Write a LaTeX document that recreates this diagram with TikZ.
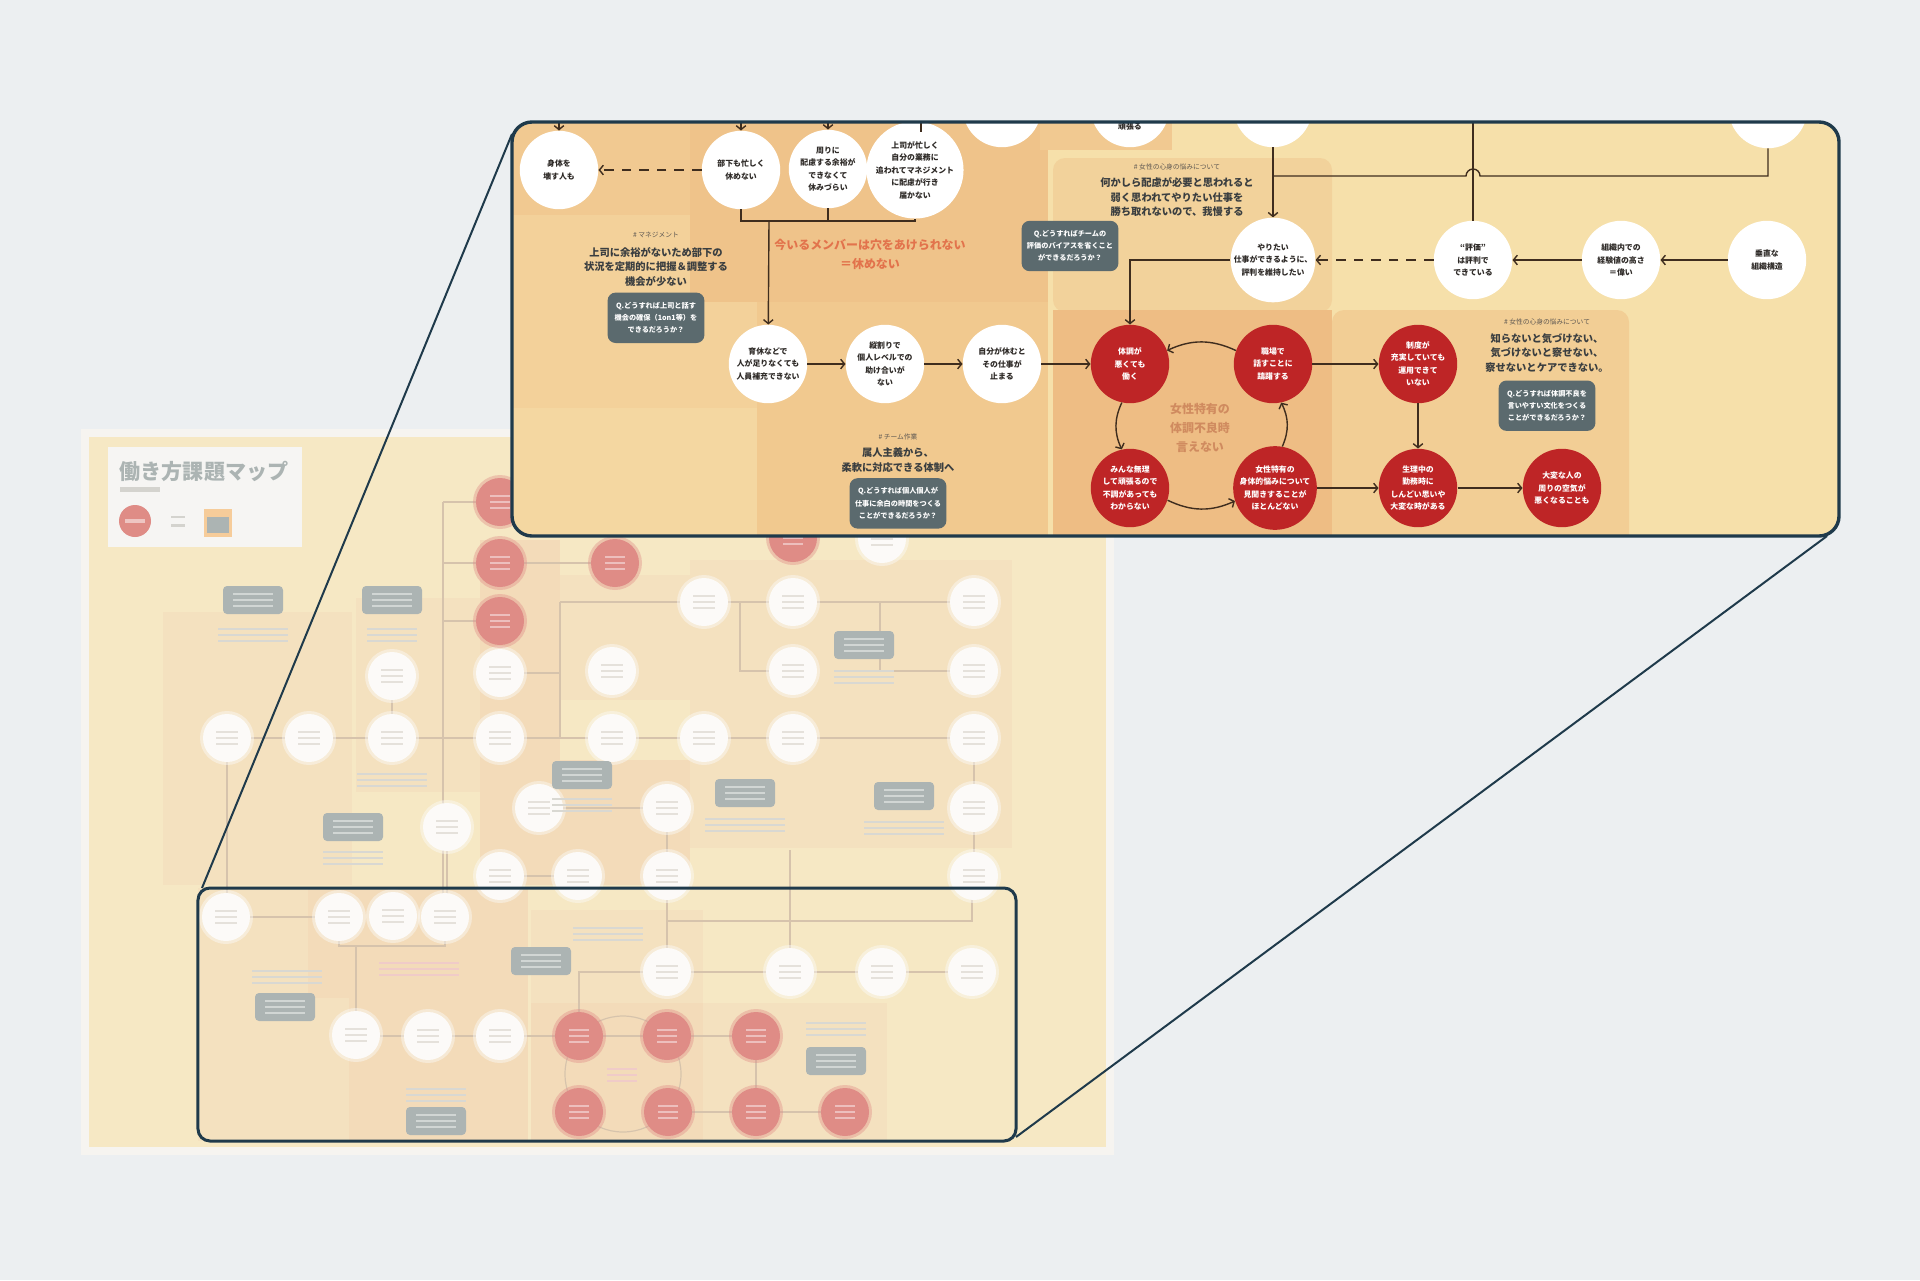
\documentclass[tikz,border=0pt]{standalone}
\usepackage{fontspec}
\setmainfont{Noto Sans CJK JP}
\usetikzlibrary{arrows.meta,positioning}

\definecolor{bgc}{HTML}{ECEFF1}
\definecolor{edgec}{HTML}{1F3A4B}
\definecolor{redc}{HTML}{BE2526}
\definecolor{slate}{HTML}{5B6A6E}
\definecolor{ink}{HTML}{2E2A27}
\definecolor{headc}{HTML}{3A3E40}
\definecolor{tagc}{HTML}{5E5852}
\definecolor{lnc}{HTML}{3F2D1E}
\definecolor{memoc}{HTML}{E2734C}
\definecolor{cycc}{HTML}{D08B5F}
% panel backgrounds
\definecolor{pbase}{HTML}{F6E0AA}
\definecolor{pleft}{HTML}{F3D19A}
\definecolor{ptop}{HTML}{F1C991}
\definecolor{pdark}{HTML}{EFC38A}
\definecolor{plite}{HTML}{F4D7A1}
\definecolor{pmid}{HTML}{F1C98F}
\definecolor{pwom}{HTML}{F2D29B}
\definecolor{pcyc}{HTML}{EEBD84}
\definecolor{pright}{HTML}{F2CE95}
% faded overview map
\definecolor{mapedge}{HTML}{F3F0EA}
\definecolor{mapbase}{HTML}{F2DEA9}
\definecolor{mappeach}{HTML}{F0D3A2}
\definecolor{mapor}{HTML}{EECB99}
\definecolor{mapred}{HTML}{D0564E}
\definecolor{mapwhite}{HTML}{FBF9F5}
\definecolor{mapgray}{HTML}{85918F}
\definecolor{mapln}{HTML}{C4A886}
\definecolor{smudge}{HTML}{D9D3CA}
\definecolor{mapcard}{HTML}{F2F1EE}

\newcommand\mapbars[4]{%
  \foreach \k in {-6,0,6}
    \fill[#4] ({#1-#3/2},{#2+\k-1.3}) rectangle ({#1+#3/2},{#2+\k+1.3});}
\newcommand\mapw[2]{%
  \fill[mapwhite,opacity=.45] (#1,#2) circle[radius=27];
  \fill[mapwhite] (#1,#2) circle[radius=24];
  \mapbars{#1}{#2}{22}{smudge}}
\newcommand\mapr[2]{%
  \fill[mapred,opacity=.4] (#1,#2) circle[radius=27];
  \fill[mapred] (#1,#2) circle[radius=24];
  \mapbars{#1}{#2}{20}{mapred!55!white}}
\newcommand\mapq[2]{%
  \fill[mapgray,rounded corners=1mm] ({#1-30},{#2-14}) rectangle ({#1+30},{#2+14});
  \mapbars{#1}{#2}{40}{mapgray!55!white}}

\begin{document}
\begin{tikzpicture}[
  x=0.25mm,y=-0.25mm,
  wnode/.style={circle,fill=white,minimum size=19.6mm,inner sep=0pt,align=center,text=ink,
    font=\fontsize{5.6}{8.9}\selectfont\bfseries},
  rnode/.style={wnode,fill=redc,text=white},
  qbox/.style={fill=slate,text=white,rounded corners=2mm,minimum width=24.2mm,minimum height=12.6mm,
    inner sep=0pt,align=center,font=\fontsize{5.1}{8.7}\selectfont\bfseries},
  head/.style={align=center,text=headc,inner sep=1pt,font=\fontsize{7.3}{10.4}\selectfont\bfseries},
  tag/.style={text=tagc,inner sep=1pt,font=\fontsize{4.8}{6}\selectfont},
  memo/.style={align=center,text=memoc,font=\fontsize{8.5}{13.5}\selectfont\bfseries},
  conn/.style={draw=lnc,line width=.35mm},
  dashline/.style={conn,dash pattern=on 2.4mm off 2mm},
  mapl/.style={draw=mapln,line width=.3mm},
  link/.style={draw=edgec,line width=.5mm},
  >={Straight Barb[length=1mm,width=2.4mm]}
]
\useasboundingbox (0,0) rectangle (1920,1280);
\fill[bgc] (0,0) rectangle (1920,1280);

% Overview map (faded)
\fill[mapedge] (81,429) rectangle (1114,1155);
\fill[mapbase] (89,437) rectangle (1106,1147);
\fill[mappeach] (163,612) rectangle (352,885);
\fill[mappeach] (356,598) rectangle (480,792);
\fill[mapor] (480,540) rectangle (560,885);
\fill[mappeach] (560,575) rectangle (690,700);
\fill[mapor] (560,760) rectangle (690,885);
\fill[mappeach] (690,560) rectangle (1012,848);
\fill[mappeach] (198,888) rectangle (528,1141);
\fill[mapor] (308,888) rectangle (528,998);
\fill[mapor] (349,998) rectangle (528,1141);
\fill[mappeach] (531,910) rectangle (703,1004);
\fill[mapor] (531,1003) rectangle (703,1141);
\fill[mappeach] (703,1003) rectangle (887,1141);

\draw[mapl] (443,502) -- (443,917);
\draw[mapl] (443,502) -- (500,502);
\draw[mapl] (443,563) -- (615,563);
\draw[mapl] (443,621) -- (500,621);
\draw[mapl] (227,738) -- (974,738);
\draw[mapl] (227,738) -- (227,917);
\draw[mapl] (392,676) -- (392,738);
\draw[mapl] (500,673) -- (560,673) -- (560,738);
\draw[mapl] (560,602) -- (560,673);
\draw[mapl] (560,602) -- (974,602);
\draw[mapl] (740,602) |- (793,671);
\draw[mapl] (880,602) |- (974,671);
\draw[mapl] (447,827) -- (447,900);
\draw[mapl] (539,808) -- (667,808) -- (667,876);
\draw[mapl] (974,738) -- (974,876);
\draw[mapl] (500,876) -- (578,876);
\draw[mapl] (226,917) -- (339,917);
\draw[mapl] (339,917) |- (356,946) -| (445,917);
\draw[mapl] (356,946) -- (356,1036) -- (756,1036);
\draw[mapl] (667,879) -- (667,972) -- (972,972);
\draw[mapl] (667,972) -| (579,1036);
\draw[mapl] (667,921) -- (972,921) -- (972,880);
\draw[mapl] (790,850) -- (790,972);
\draw[mapl] (756,1036) -- (756,1112);
\draw[mapl] (668,1112) -- (845,1112);
\draw[mapl] (623,1074) circle[radius=58];

\foreach \x/\y in {227/738, 309/738, 392/676, 392/738, 500/673, 500/738, 612/671, 612/738,
  704/602, 704/738, 793/602, 793/671, 793/738, 974/602, 974/671, 974/738, 974/808, 974/876,
  447/827, 539/808, 667/808, 500/876, 578/876, 667/876, 882/539, 226/917, 339/917, 393/916,
  445/917, 356/1035, 428/1036, 500/1036, 667/972, 790/972, 882/972, 972/972}
  \mapw{\x}{\y};
\foreach \x/\y in {500/502, 500/563, 500/621, 615/563, 793/538, 579/1036, 667/1036, 756/1036,
  579/1112, 668/1112, 756/1112, 845/1112}
  \mapr{\x}{\y};
\foreach \x/\y in {253/600, 392/600, 582/775, 745/793, 904/796, 353/827, 864/645, 541/961,
  285/1007, 436/1121, 836/1061}
  \mapq{\x}{\y};
\foreach \x/\y/\w in {253/635/70, 392/635/50, 392/780/70, 582/805/60, 745/825/80, 904/828/80,
  353/858/60, 864/677/60, 287/977/70, 436/1095/60, 608/934/70, 836/1029/60}
  \mapbars{\x}{\y}{\w}{smudge!80!mapgray};
\mapbars{419}{969}{80}{mapred!45!white}
\mapbars{622}{1075}{30}{mapred!45!white}

% map title and legend
\fill[mapcard] (108,447) rectangle (302,547);
\node[text=mapgray,font=\fontsize{15}{18}\selectfont\bfseries] (ttl) at (204,471) {働き方課題マップ};
\fill[smudge!70!mapgray] (120,487) rectangle (160,492);
\fill[mapred] (135,521) circle[radius=16];
\fill[white,opacity=.5] (125,519) rectangle (145,523);
\fill[smudge!70!mapgray] (171,516) rectangle (185,518);
\fill[smudge!70!mapgray] (171,524) rectangle (185,527);
\fill[mapor!70!orange] (204,509) rectangle (232,537);
\fill[mapgray] (207,517) rectangle (229,533);

% wash over the map
\fill[white,opacity=.32] (81,429) rectangle (1114,1155);

% zoomed region marker
\node[draw=edgec,line width=.75mm,rounded corners=3mm,minimum width=204.5mm,minimum height=63.25mm,
  inner sep=0pt,outer sep=0pt] (mini) at (607,1014.5) {};

% Zoomed panel
\begin{scope}
\clip[rounded corners=5mm] (512,122) rectangle (1839,536);
\fill[pbase] (512,122) rectangle (1839,536);
\fill[pleft] (512,122) rectangle (1048,536);
\fill[ptop] (512,122) rectangle (1048,215);
\fill[pdark] (690,122) rectangle (1048,302);
\fill[plite] (512,408) rectangle (757,536);
\fill[pmid] (757,302) rectangle (1048,536);
\fill[ptop] (1040,110) rectangle (1172,150);
\fill[pwom,rounded corners=3mm] (1053,158) rectangle (1332,312);
\fill[pcyc] (1053,310) rectangle (1332,536);
\fill[pright,rounded corners=3mm] (1332,310) rectangle (1629,548);

% Management
\node[wnode] (kr) at (559,170) {身体を\\壊す人も};
\node[wnode] (bk) at (741,170) {部下も忙しく\\休めない};
\node[wnode] (mw) at (828,169) {周りに\\配慮する余裕が\\できなくて\\休みづらい};
\node[wnode] (js) at (915,170) {上司が忙しく\\自分の業務に\\追われてマネジメント\\に配慮が行き\\届かない};
\coordinate (u1) at (559,105);
\coordinate (u2) at (741,105);
\coordinate (u3) at (828,105);
\coordinate (u4) at (911,105);
\coordinate (u5) at (921,105);
\draw[conn,->] (u1) -- (kr);
\draw[conn,->] (u2) -- (bk);
\draw[conn,->] (u3) -- (mw);
\draw[conn,->] (u4) -- (u4 |- js.north);
\draw[conn] (u5) -- ++(0,27);
\draw[dashline,->] (bk) -- (kr);
\coordinate (br) at (769,221);
\draw[conn] (bk.south) |- (br) -| (js.south);
\draw[conn] (mw.south) -- (mw.south |- br);

\node[head] (m1) at (656,267) {上司に余裕がないため部下の\\状況を定期的に把握＆調整する\\機会が少ない};
\node[tag,above=1.6mm of m1] (m0) {\# マネジメント};
\node[qbox,below=1mm of m1] (mq) {Q.どうすれば上司と話す\\機会の確保（1on1等）を\\できるだろうか？};
\node[memo] (mm) at (870,254) {今いるメンバーは穴をあけられない\\＝休めない};

% Team work
\node[wnode] (ik) at (768,364) {育休などで\\人が足りなくても\\人員補充できない};
\node[wnode] (tw) at (885,364) {縦割りで\\個人レベルでの\\助け合いが\\ない};
\node[wnode] (jy) at (1002,364) {自分が休むと\\その仕事が\\止まる};
\draw[conn,->] (br) -- (ik);
\draw[conn,->] (ik) -- (tw);
\draw[conn,->] (tw) -- (jy);
\node[head] (c1) at (898,460) {属人主義から、\\柔軟に対応できる体制へ};
\node[tag,above=1.2mm of c1] (c0) {\# チーム作業};
\node[qbox,below=1mm of c1] (cq) {Q.どうすれば個人個人が\\仕事に余白の時間をつくる\\ことができるだろうか？};

% top row, cut by the frame
\node[wnode] (t1) at (1002,108) {};
\node[wnode] (t2) at (1130,108) {};
\node[text=ink,font=\fontsize{5.6}{8.9}\selectfont\bfseries] (t2t) at (1130,127) {頑張る};
\node[wnode] (t3) at (1273,108) {};
\node[wnode] (t4) at (1768,109) {};

% Evaluation
\node[wnode] (yr) at (1273,260) {やりたい\\仕事ができるように、\\評判を維持したい};
\node[wnode] (hk) at (1473,260) {“評価”\\は評判で\\できている};
\node[wnode] (sk) at (1621,260) {組織内での\\経験値の高さ\\＝偉い};
\node[wnode] (sc) at (1767,260) {垂直な\\組織構造};
\coordinate (j1) at (1273,176);
\coordinate (u6) at (1473,105);
\draw[conn,->] (t3) -- (yr);
\draw[conn] (t4.south) |- (1480,176) arc[start angle=0,end angle=-180,radius=7] -- (j1);
\draw[conn] (u6) -- (hk);
\draw[dashline,->] (hk) -- (yr);
\draw[conn,->] (sk) -- (hk);
\draw[conn,->] (sc) -- (sk);
\node[head] (w1) at (1177,197) {何かしら配慮が必要と思われると\\弱く思われてやりたい仕事を\\勝ち取れないので、我慢する};
\node[tag,above=1mm of w1] (w0) {\# 女性の心身の悩みについて};
\node[qbox] (wq) at (1070,246) {Q.どうすればチームの\\評価のバイアスを省くこと\\ができるだろうか？};

% Women's health
\node[rnode] (tc) at (1130,364) {体調が\\悪くても\\働く};
\node[rnode] (sb) at (1273,364) {職場で\\話すことに\\躊躇する};
\node[rnode] (sd) at (1418,364) {制度が\\充実していても\\運用できて\\いない};
\node[rnode] (mn) at (1130,488) {みんな無理\\して頑張るので\\不調があっても\\わからない};
\node[rnode] (jt) at (1275,488) {女性特有の\\身体的悩みについて\\見聞きすることが\\ほとんどない};
\node[rnode] (sr) at (1418,488) {生理中の\\勤務時に\\しんどい思いや\\大変な時がある};
\node[rnode] (tk) at (1562,488) {大変な人の\\周りの空気が\\悪くなることも};
\draw[conn,->] (jy) -- (tc);
\draw[conn,->] (yr.west) -| (tc.north);
\draw[conn,->] (sb.160) to[bend right=25] (tc.20);
\draw[conn,->] (tc.258) to[bend right=25] (mn.102);
\draw[conn,->] (mn.-18) to[bend right=25] (jt.198);
\draw[conn,->] (jt.80) to[bend right=25] (sb.-78);
\draw[conn,->] (sb) -- (sd);
\draw[conn,->] (jt) -- (sr);
\draw[conn,->] (sd) -- (sr);
\draw[conn,->] (sr) -- (tk);
\node[align=center,text=cycc,font=\fontsize{8.5}{13.5}\selectfont\bfseries] (cy) at (1200,428) {女性特有の\\体調不良時\\言えない};
\node[head] (k1) at (1547,353) {知らないと気づけない、\\気づけないと察せない、\\察せないとケアできない。};
\node[tag,above=1.2mm of k1] (k0) {\# 女性の心身の悩みについて};
\node[qbox,below=1.5mm of k1] (kq) {Q.どうすれば体調不良を\\言いやすい文化をつくる\\ことができるだろうか？};
\end{scope}

\node[draw=edgec,line width=.85mm,rounded corners=5mm,minimum width=331.75mm,minimum height=103.5mm,
  inner sep=0pt,outer sep=0pt] (zoom) at (1175.5,329) {};
\draw[link] ([xshift=1mm]mini.north west) -- ([yshift=-3mm]zoom.north west);
\draw[link] ([yshift=1mm]mini.south east) -- ([xshift=-3mm]zoom.south east);
\end{tikzpicture}
\end{document}
